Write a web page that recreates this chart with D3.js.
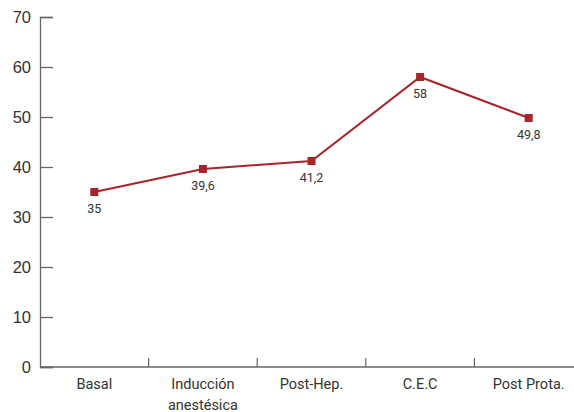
<!DOCTYPE html>
<html>
<head>
<meta charset="utf-8">
<script src="https://cdn.jsdelivr.net/npm/d3@7"></script>
<style>
  body { margin: 0; background: #fff; }
  svg { display: block; font-family: Roboto, "Noto Sans", sans-serif; }
</style>
</head>
<body>
<svg id="chart" width="574" height="412"></svg>
<script>
const categories = ['Basal', 'Inducción\nanestésica', 'Post-Hep.', 'C.E.C', 'Post Prota.']
const values = [35, 39.6, 41.2, 58, 49.8]
const valueLabels = ['35', '39,6', '41,2', '58', '49,8']
const yTicks = [0, 10, 20, 30, 40, 50, 60, 70]

const svg = d3.select('#chart')
const margin = {top: 17, left: 40, bottom: 45}
const height = 412
const axisColor = '#666'
const lineColor = '#a8232a'

const xScale = d3.scaleBand()
  .domain(categories)
  .range([margin.left, 583])

const yScale = d3.scaleLinear()
  .domain([0, 70])
  .range([height - margin.bottom, margin.top])

// y axis, ticks pointing into the plot
const yAxis = svg.append('g')
  .attr('transform', `translate(${margin.left},0)`)
  .call(d3.axisRight(yScale).tickValues(yTicks).tickSize(13).tickFormat(d3.format('d')))
yAxis.select('.domain').attr('stroke', axisColor).attr('stroke-width', 1.3)
yAxis.selectAll('.tick line').attr('stroke', axisColor).attr('stroke-width', 1.3)
yAxis.selectAll('.tick text')
  .attr('x', -9)
  .attr('text-anchor', 'end')
  .attr('fill', '#333')
  .style('font-size', '16.5px')

// x axis, ticks at band boundaries
const xAxisG = svg.append('g')
  .attr('transform', `translate(0,${yScale(0)})`)
xAxisG.append('line')
  .attr('x1', margin.left).attr('x2', 583)
  .attr('stroke', axisColor).attr('stroke-width', 1.3)
xAxisG.selectAll('.xtick')
  .data(categories.slice(1))
  .join('line')
  .attr('class', 'xtick')
  .attr('x1', d => xScale(d)).attr('x2', d => xScale(d))
  .attr('y1', 0).attr('y2', -9)
  .attr('stroke', axisColor).attr('stroke-width', 1.2)
xAxisG.selectAll('.xlabel')
  .data(categories)
  .join('text')
  .attr('class', 'xlabel')
  .attr('text-anchor', 'middle')
  .attr('fill', '#333')
  .style('font-size', '14.5px')
  .each(function(d) {
    const t = d3.select(this)
    d.split('\n').forEach((part, i) => {
      t.append('tspan')
        .attr('x', xScale(d) + xScale.bandwidth() / 2)
        .attr('y', 22 + i * 21)
        .text(part)
    })
  })

const cx = (d, i) => xScale(categories[i]) + xScale.bandwidth() / 2

const line = d3.line()
  .x((d, i) => cx(d, i))
  .y(d => yScale(d))

svg.append('path')
  .datum(values)
  .attr('d', line)
  .attr('fill', 'none')
  .attr('stroke', lineColor)
  .attr('stroke-width', 2)

svg.selectAll('.marker')
  .data(values)
  .join('rect')
  .attr('class', 'marker')
  .attr('x', (d, i) => cx(d, i) - 4)
  .attr('y', d => yScale(d) - 4)
  .attr('width', 8).attr('height', 8)
  .attr('fill', lineColor)

svg.selectAll('.vlabel')
  .data(values)
  .join('text')
  .attr('class', 'vlabel')
  .attr('x', (d, i) => cx(d, i))
  .attr('y', d => yScale(d) + 21)
  .attr('text-anchor', 'middle')
  .attr('fill', '#333')
  .style('font-size', '12.5px')
  .text((d, i) => valueLabels[i])
</script>
</body>
</html>
